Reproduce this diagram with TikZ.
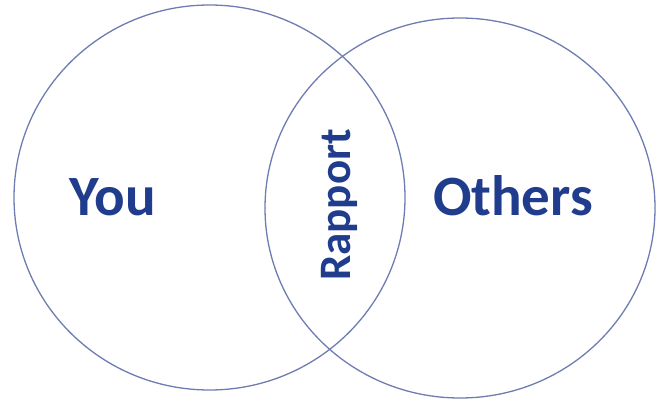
\documentclass[tikz,border=0pt]{standalone}
\usepackage{fontspec}
\setmainfont{Carlito}
\usepackage{tikz}
\usetikzlibrary{positioning, shapes.geometric}
\definecolor{setline}{RGB}{110,124,178}
\definecolor{labelblue}{RGB}{32,60,140}

\begin{document}
\begin{tikzpicture}[
    x=1pt, y=1pt,
    setshape/.style={ellipse, draw=setline, line width=1.3pt, inner sep=0pt},
    setlbl/.style={font=\fontsize{57}{60}\selectfont\bfseries, text=labelblue, anchor=base},
    midlbl/.style={font=\fontsize{45}{48}\selectfont\bfseries, text=labelblue, rotate=90},
]
\useasboundingbox (0,0) rectangle (656,400);

% the two sets
\node[setshape, minimum width=391pt, minimum height=385pt] (you) at (209.5,202.5) {};
\node[setshape, minimum width=390pt, minimum height=380pt] (others) at (460,192) {};

% labels
\node[setlbl] (youlbl) at (113,185) {You};
\node[setlbl] (otherslbl) at (513,185) {Others};
\node[midlbl] (rapport) at (339,195) {Rapport};

\end{tikzpicture}
\end{document}
